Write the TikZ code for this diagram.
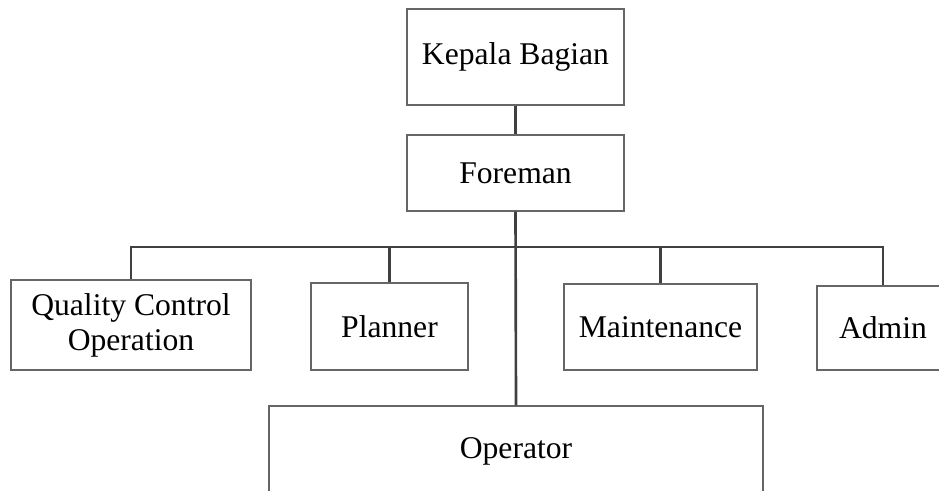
\documentclass[tikz,border=0pt]{standalone}
\usepackage{fontspec}
\setmainfont{Liberation Serif}
\usepackage{tikz}
\usetikzlibrary{positioning,calc}

\begin{document}
\begin{tikzpicture}[
        x=0.02cm, y=-0.02cm,
        unit/.style={draw=black!60, line width=0.6pt, fill=white,
          font=\fontsize{18}{20}\selectfont, inner sep=2pt, align=center},
        link/.style={draw=black!75, line width=1.5pt}
      ]
        \useasboundingbox (0,0) rectangle (939,490);
        \node[unit, minimum width=217*0.02cm, minimum height=96*0.02cm] (kepala) at (515.5,57) {Kepala Bagian};
        \node[unit, minimum width=217*0.02cm, minimum height=76*0.02cm] (foreman) at (515.5,173) {Foreman};
        \node[unit, minimum width=240*0.02cm, minimum height=90*0.02cm] (qc) at (131,325) {Quality Control\\Operation};
        \node[unit, minimum width=157*0.02cm, minimum height=87*0.02cm] (planner) at (389.5,326.5) {Planner};
        \node[unit, minimum width=193*0.02cm, minimum height=86*0.02cm] (maint) at (660.5,327) {Maintenance};
        \node[unit, minimum width=132*0.02cm, minimum height=84*0.02cm] (admin) at (883,328) {Admin};
        \node[unit, minimum width=494*0.02cm, minimum height=90*0.02cm] (operator) at (516,451) {Operator};
        \coordinate (bus) at (516,247);
        \draw[link] (kepala.south) -- (foreman.north);
        \draw[link] (foreman.south) -- (operator.north);
        \draw[link] (qc.north) |- (bus) -| (admin.north);
        \draw[link] (planner.north) -- (planner.north |- bus);
        \draw[link] (maint.north) -- (maint.north |- bus);
      \end{tikzpicture}
\end{document}
